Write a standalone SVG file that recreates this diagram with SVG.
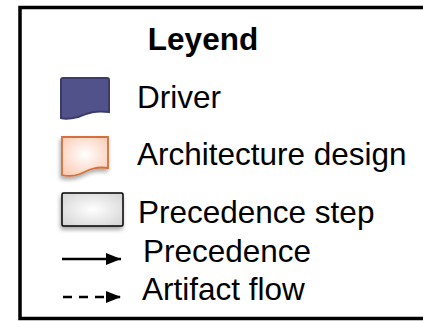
<svg xmlns="http://www.w3.org/2000/svg" width="423" height="321" viewBox="0 0 423 321">
  <style>
    .t { font-family: "Liberation Sans", Arial, sans-serif; font-size: 31.5px; fill: #000; }
    .h { font-weight: bold; }
  </style>
  <defs>
    <radialGradient id="gArch" cx="0.5" cy="0.45" r="0.65">
      <stop offset="0" stop-color="#ffffff"/>
      <stop offset="1" stop-color="#fbcbb5"/>
    </radialGradient>
    <radialGradient id="gStep" cx="0.5" cy="0.5" r="0.7">
      <stop offset="0" stop-color="#ffffff"/>
      <stop offset="1" stop-color="#d2d2d2"/>
    </radialGradient>
    <filter id="sh" x="-30%" y="-30%" width="160%" height="170%">
      <feGaussianBlur in="SourceAlpha" stdDeviation="2"/>
      <feOffset dx="-1" dy="3" result="b"/>
      <feComponentTransfer><feFuncA type="linear" slope="0.35"/></feComponentTransfer>
      <feMerge><feMergeNode/><feMergeNode in="SourceGraphic"/></feMerge>
    </filter>
    <marker id="ah" viewBox="0 0 15 12" refX="15" refY="6" markerWidth="15" markerHeight="12" markerUnits="userSpaceOnUse" orient="auto">
      <path d="M0,0 L15,6 L0,12 Z" fill="#000"/>
    </marker>
  </defs>

  <rect x="20" y="7.5" width="420" height="311" fill="#fff" stroke="#000" stroke-width="3.5"/>

  <g id="title">
    <text class="t h" x="203" y="50" text-anchor="middle">Leyend</text>
  </g>

  <g id="driver">
    <path d="M63,78 H107 Q109,78 109,80 V112 C95,110 88,113 78,117 C70,119 64,119 61,118 V80 Q61,78 63,78 Z" fill="#52528a" stroke="#3b3b6b" stroke-width="2"/>
    <text class="t" x="137" y="108">Driver</text>
  </g>

  <g id="architecture-design">
    <path d="M62,137 H108 V168 C96,166 88,170 80,174 C72,177 66,176 62,175 Z" fill="url(#gArch)" stroke="#d4703a" stroke-width="1.8" filter="url(#sh)"/>
    <text class="t" x="137" y="165">Architecture design</text>
  </g>

  <g id="precedence-step">
    <rect x="62" y="193" width="61" height="33" rx="1.5" fill="url(#gStep)" stroke="#000" stroke-width="1.5" filter="url(#sh)"/>
    <text class="t" x="138" y="223">Precedence step</text>
  </g>

  <g id="connectors">
    <line x1="62" y1="259" x2="121" y2="259" stroke="#000" stroke-width="2.5" marker-end="url(#ah)"/>
    <line x1="63" y1="297" x2="121" y2="297" stroke="#000" stroke-width="2.5" stroke-dasharray="9,7" marker-end="url(#ah)"/>
  </g>
  <g id="connector-labels">
    <text class="t" x="143" y="262">Precedence</text>
    <text class="t" x="142" y="300">Artifact flow</text>
  </g>
</svg>
